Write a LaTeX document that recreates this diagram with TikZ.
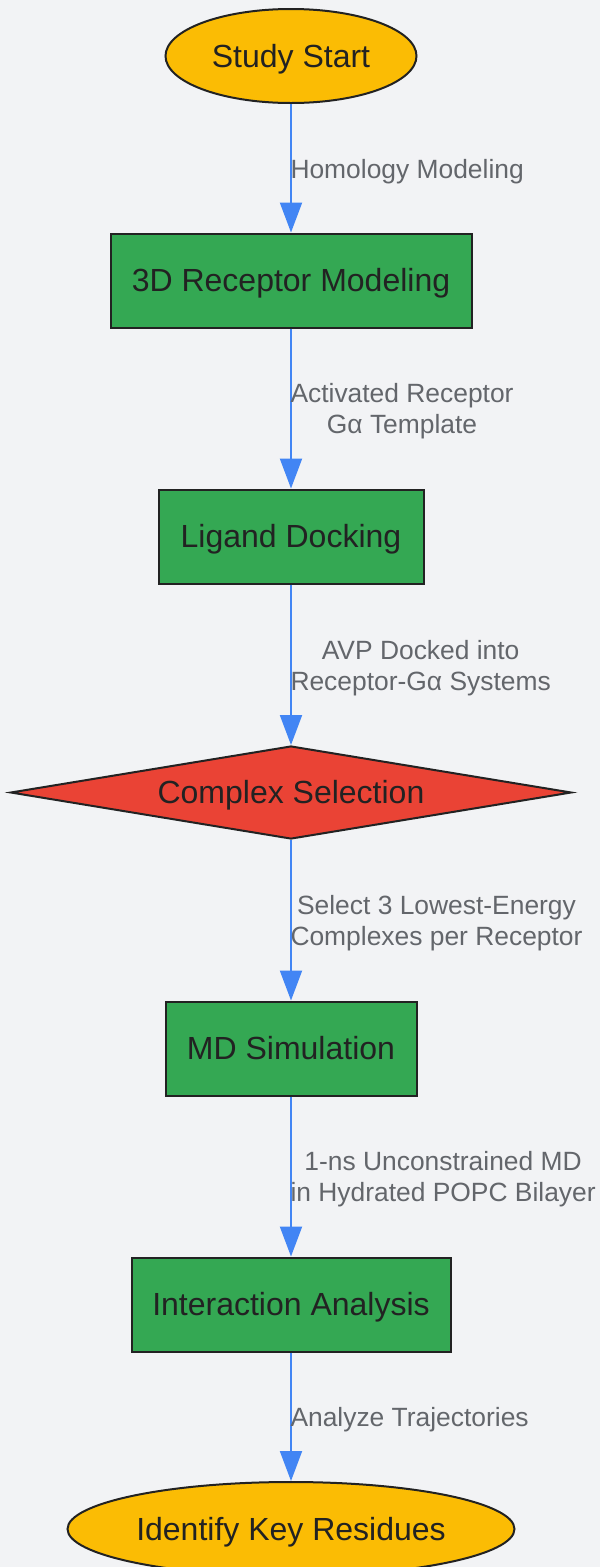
\documentclass[tikz,border=0pt]{standalone}
\usepackage{fontspec}
\setmainfont{Liberation Sans}
\usepackage{xcolor}
\usetikzlibrary{shapes.geometric,arrows.meta}
\definecolor{Amber}{HTML}{FBBC04}
\definecolor{Jade}{HTML}{34A853}
\definecolor{Cinnabar}{HTML}{EA4335}
\definecolor{Dodger}{HTML}{4285F4}
\definecolor{Porcelain}{HTML}{F2F3F5}
\definecolor{Shark}{HTML}{222222}
\definecolor{Gravel}{HTML}{63666B}
\newcommand{\nodefont}{\fontsize{32}{38}\selectfont}
\newcommand{\edgefont}{\fontsize{26.4}{31}\selectfont}

\tikzset{
  terminal/.style={ellipse,draw=Shark,line width=2pt,fill=Amber,inner sep=0pt,
    minimum height=94pt,text=Shark,font=\nodefont,text height=24pt,text depth=2pt},
  process/.style={rectangle,draw=Shark,line width=2pt,fill=Jade,inner sep=0pt,
    minimum height=94pt,text=Shark,font=\nodefont,text height=24pt,text depth=2pt},
  choice/.style={diamond,draw=Shark,line width=2pt,fill=Cinnabar,inner sep=0pt,
    aspect=6,minimum width=561pt,minimum height=93pt,text=Shark,font=\nodefont,
    text height=24pt,text depth=2pt},
  flow/.style={draw=Dodger,line width=2pt,-{Triangle[length=30pt,width=22pt]}},
  flowlabel/.style={anchor=west,inner sep=0pt,xshift=-1.5pt,yshift=-3pt,
    text=Gravel,align=center,font=\edgefont}
}

\begin{document}
\begin{tikzpicture}[x=1pt,y=-1pt]
    \useasboundingbox[fill=Porcelain] (0,0) rectangle (600,1567);

    \node[terminal,minimum width=251pt] (start) at (291,56) {Study Start};
    \node[process,minimum width=361pt] (model) at (291,280.5) {3D Receptor Modeling};
    \node[process,minimum width=265pt] (dock) at (291,536.5) {Ligand Docking};
    \node[choice] (select) at (291,792.5) {Complex Selection};
    \node[process,minimum width=251pt] (md) at (291,1048.5) {MD Simulation};
    \node[process,minimum width=319pt] (inter) at (291,1304.5) {Interaction Analysis};
    \node[terminal,minimum width=447pt] (residues) at (291,1529) {Identify Key Residues};

    \draw[flow] (start) -- node[flowlabel] {Homology Modeling} (model);
    \draw[flow] (model) -- node[flowlabel] {Activated Receptor\\Gα Template} (dock);
    \draw[flow] (dock) -- node[flowlabel] {AVP Docked into\\Receptor-Gα Systems} (select);
    \draw[flow] (select) -- node[flowlabel] {Select 3 Lowest-Energy\\Complexes per Receptor} (md);
    \draw[flow] (md) -- node[flowlabel] {1-ns Unconstrained MD\\in Hydrated POPC Bilayer} (inter);
    \draw[flow] (inter) -- node[flowlabel] {Analyze Trajectories} (residues);
\end{tikzpicture}
\end{document}
